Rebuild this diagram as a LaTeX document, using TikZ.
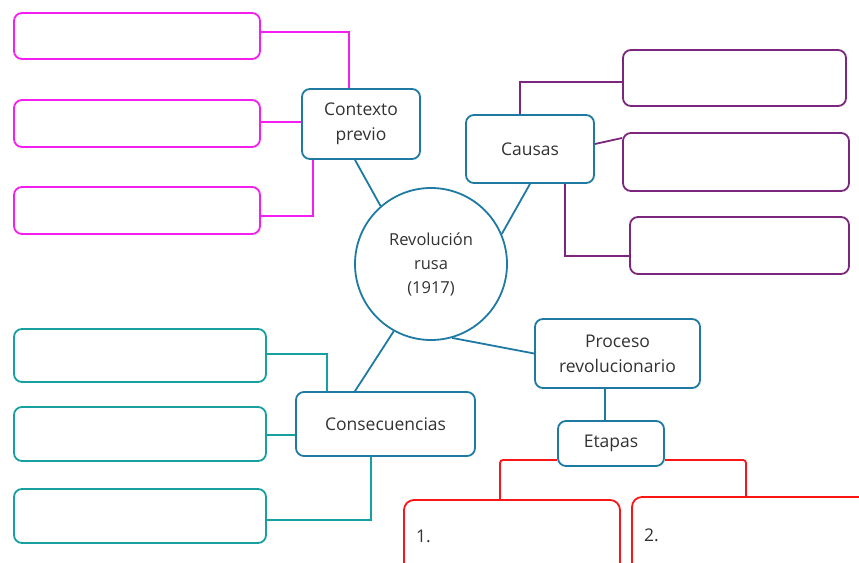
\documentclass[tikz,border=0pt]{standalone}
\usepackage{fontspec}
\setmainfont{Open Sans}
\definecolor{mapblue}{RGB}{30,122,162}
\definecolor{mapmag}{RGB}{245,30,240}
\definecolor{mappur}{RGB}{125,38,125}
\definecolor{mapteal}{RGB}{22,160,160}
\definecolor{mapred}{RGB}{250,22,22}
\definecolor{maptext}{RGB}{50,50,50}
\begin{document}
\begin{tikzpicture}[
  x=1pt, y=-1pt,
  font=\fontsize{17.5}{25}\selectfont, text=maptext,
  topic/.style={draw=mapblue, line width=1.8pt, rounded corners=8pt, align=center},
  blank/.style={draw=#1, line width=1.8pt, rounded corners=8pt},
  link/.style={line width=1.8pt, draw=#1},
  numbox/.style={draw=mapred, line width=1.8pt, rounded corners=10pt, align=left,
    inner xsep=12pt}
]
\useasboundingbox (0,0) rectangle (859,562);
\clip (0,0) rectangle (859,562);

\node[circle, draw=mapblue, line width=1.8pt, minimum size=152pt, align=center,
  font=\fontsize{16.5}{24}\selectfont] (rev) at (431,264)
  {Revolución\\ rusa\\ (1917)};

\node[topic, minimum width=118pt, minimum height=70pt] (ctx) at (361,124)
  {Contexto\\ previo};
\node[topic, minimum width=128pt, minimum height=68pt] (cau) at (530,149) {Causas};
\node[topic, minimum width=179pt, minimum height=64pt] (con) at (385.5,424)
  {Consecuencias};
\node[topic, minimum width=165pt, minimum height=69pt] (pro) at (617.5,353.5)
  {Proceso\\ revolucionario};
\node[topic, minimum width=106pt, minimum height=45pt] (eta) at (611,443.5) {Etapas};

\node[blank=mapmag, minimum width=246pt, minimum height=46pt] (ctx1) at (137,36) {};
\node[blank=mapmag, minimum width=246pt, minimum height=47pt] (ctx2) at (137,123.5) {};
\node[blank=mapmag, minimum width=246pt, minimum height=47pt] (ctx3) at (137,210.5) {};

\node[blank=mappur, minimum width=223pt, minimum height=56pt] (cau1) at (734.5,78) {};
\node[blank=mappur, minimum width=226pt, minimum height=58pt] (cau2) at (736,162) {};
\node[blank=mappur, minimum width=219pt, minimum height=57pt] (cau3) at (739.5,245.5) {};

\node[blank=mapteal, minimum width=252pt, minimum height=53pt] (con1) at (140,355.5) {};
\node[blank=mapteal, minimum width=252pt, minimum height=54pt] (con2) at (140,434) {};
\node[blank=mapteal, minimum width=252pt, minimum height=54pt] (con3) at (140,516) {};

\node[numbox, text width=192pt, minimum height=72pt] (eta1) at (512,536) {1.};
\node[numbox, text width=224pt, minimum height=76pt] (eta2) at (756,535) {2.};

\draw[link=mapblue] (rev.131.8) -- ([xshift=-6pt]ctx.south);
\draw[link=mapblue] (rev.23.6) -- (cau.south);
\draw[link=mapblue] (rev.241.4) -- ([xshift=-30.5pt]con.north);
\draw[link=mapblue] (rev.286.7) -- (pro.west);
\draw[link=mapblue] ([xshift=-12.5pt]pro.south) -- ([xshift=-12.5pt]pro.south |- eta.north);

\draw[link=mapmag] ([yshift=4pt]ctx1.east) -| ([xshift=-12pt]ctx.north);
\draw[link=mapmag] ([yshift=1.5pt]ctx2.east) -- ([yshift=1.5pt]ctx2.east -| ctx.west);
\draw[link=mapmag] ([yshift=-5.5pt]ctx3.east) -| ([xshift=-48pt]ctx.south);

\draw[link=mappur] ([yshift=-4pt]cau1.west) -| ([xshift=-10pt]cau.north);
\draw[link=mappur] ([yshift=5pt]cau.east) -- ([yshift=24pt]cau2.west);
\draw[link=mappur] ([yshift=-10.5pt]cau3.west) -| ([xshift=35pt]cau.south);

\draw[link=mapteal] ([yshift=1.5pt]con1.east) -| ([xshift=-58.5pt]con.north);
\draw[link=mapteal] ([yshift=-1pt]con2.east) -- ([yshift=-1pt]con2.east -| con.west);
\draw[link=mapteal] ([yshift=-4pt]con3.east) -| ([xshift=-14.5pt]con.south);

\draw[link=mapred, rounded corners=3pt] ([yshift=-16.5pt]eta.west) -| ([xshift=-12pt]eta1.north);
\draw[link=mapred, rounded corners=3pt] ([yshift=-16.5pt]eta.east) -| ([xshift=-10pt]eta2.north);
\end{tikzpicture}
\end{document}
